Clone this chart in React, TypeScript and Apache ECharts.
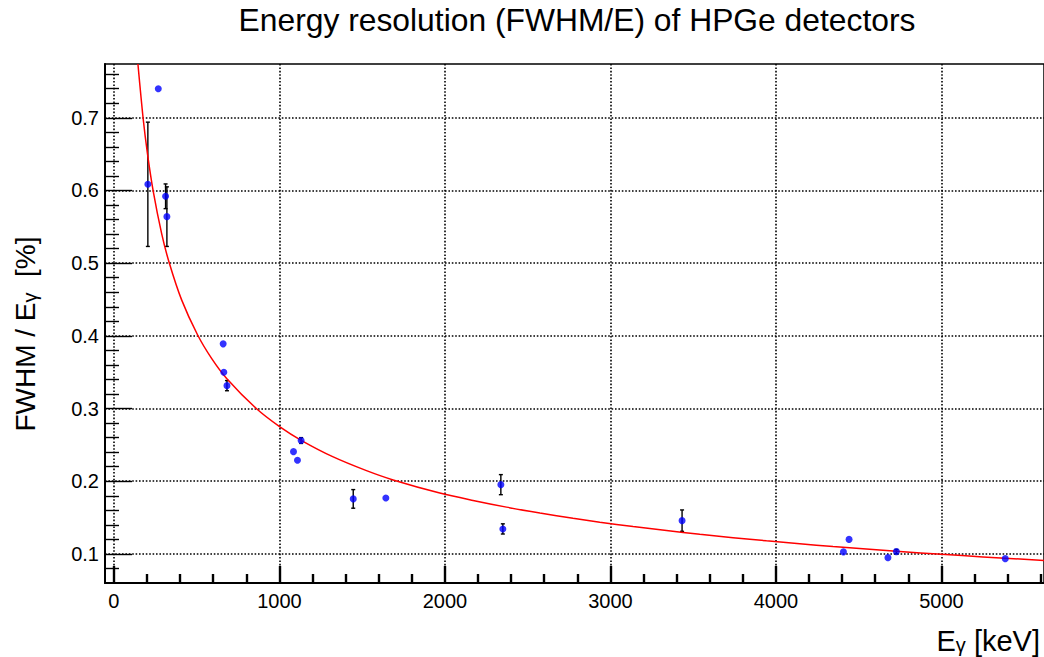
import React, { useEffect, useRef } from "react";
import * as echarts from "echarts";

const TITLE = "Energy resolution (FWHM/E) of HPGe detectors";

// measured points (energy in keV, FWHM/E in %) with error bars
const energies = [205, 268, 312, 320, 660, 664, 683, 1085, 1109, 1131, 1446, 1643, 2338, 2350, 3433, 4408, 4442, 4677, 4728, 5386];
const resolutions = [0.6085, 0.740, 0.592, 0.564, 0.389, 0.350, 0.3315, 0.2407, 0.2288, 0.256, 0.1757, 0.177, 0.1953, 0.1344, 0.1458, 0.1028, 0.120, 0.0949, 0.1032, 0.0935];
const errors = [0.0855, 0, 0.017, 0.041, 0, 0, 0.007, 0, 0, 0.004, 0.0128, 0, 0.0138, 0.007, 0.0147, 0, 0, 0, 0.003, 0];

// fitted curve
const fitEnergies = [145, 177, 203, 237, 288, 334, 409, 505, 590, 681, 862, 1003, 1134, 1325, 1526, 1687, 1969, 2170, 2372, 2574, 2774, 2936, 3137, 3339, 3540, 3741, 3943, 4144, 4345, 4506, 4748, 5000, 5251, 5620];
const fitValues = [0.774, 0.698, 0.650, 0.5995, 0.541, 0.5006, 0.4495, 0.4015, 0.369, 0.3414, 0.2997, 0.2748, 0.256, 0.2335, 0.2146, 0.2018, 0.1838, 0.1736, 0.1644, 0.1563, 0.1491, 0.1437, 0.1377, 0.1322, 0.1270, 0.1224, 0.1180, 0.1140, 0.1102, 0.1074, 0.1034, 0.0995, 0.0959, 0.0910];

// axes
const X_MIN = -54;
const X_MAX = 5620;
const Y_MIN = 0.06;
const Y_MAX = 0.774;
const xMajorTicks = [0, 1000, 2000, 3000, 4000, 5000];
const xMinorTicks = [200, 400, 600, 800, 1200, 1400, 1600, 1800, 2200, 2400, 2600, 2800, 3200, 3400, 3600, 3800, 4200, 4400, 4600, 4800, 5200, 5400, 5600];
const yMajorTicks = [0.1, 0.2, 0.3, 0.4, 0.5, 0.6, 0.7];
const yMinorTicks = [0.08, 0.12, 0.14, 0.16, 0.18, 0.22, 0.24, 0.26, 0.28, 0.32, 0.34, 0.36, 0.38, 0.42, 0.44, 0.46, 0.48, 0.52, 0.54, 0.56, 0.58, 0.62, 0.64, 0.66, 0.68, 0.72, 0.74, 0.76];

const FONT = "'Liberation Sans', Arial, Helvetica, sans-serif";

export default function App() {
  const ref = useRef<HTMLDivElement>(null);
  useEffect(() => {
    if (!ref.current) return;
    const chart = echarts.init(ref.current, null, { renderer: "svg" });
    const tickStyle = { color: "#000", width: 1.4 };
    const xTickStyle = { color: "#000", width: 2.4 };
    const gridLine = { show: true, lineStyle: { color: "#000", width: 1.6, type: [1.6, 1.8] as any } };
    const pointData = energies.map((e, i) => [e, resolutions[i]]);
    const errData = energies
      .map((e, i) => [e, resolutions[i], errors[i]])
      .filter((d) => d[2] > 0);
    const fitData = fitEnergies.map((e, i) => [e, fitValues[i]]);

    chart.setOption({
      animation: false,
      backgroundColor: "#fff",
      grid: { left: 105, right: 0, top: 64, bottom: 74, show: true, borderColor: "#000", borderWidth: 1.5, containLabel: false },
      xAxis: [
        {
          type: "value", min: X_MIN, max: X_MAX, position: "bottom",
          axisLine: { show: true, onZero: false, lineStyle: { color: "#000", width: 2 } },
          axisTick: { show: true, inside: true, length: 17, customValues: xMajorTicks, lineStyle: xTickStyle },
          axisLabel: { customValues: xMajorTicks, color: "#000", fontSize: 20, fontFamily: FONT, margin: 8, formatter: (v: number) => String(Math.round(v)) },
          splitLine: gridLine,
        },
        {
          type: "value", min: X_MIN, max: X_MAX, position: "bottom",
          axisLine: { show: false, onZero: false },
          axisTick: { show: true, inside: true, length: 9, customValues: xMinorTicks, lineStyle: xTickStyle },
          axisLabel: { show: false },
          splitLine: { show: false },
        },
      ],
      yAxis: [
        {
          type: "value", min: Y_MIN, max: Y_MAX, position: "left",
          axisLine: { show: true, onZero: false, lineStyle: { color: "#000", width: 2 } },
          axisTick: { show: true, inside: true, length: 27, customValues: yMajorTicks, lineStyle: tickStyle },
          axisLabel: { customValues: yMajorTicks, color: "#000", fontSize: 20, fontFamily: FONT, margin: 6, formatter: (v: number) => v.toFixed(1) },
          splitLine: gridLine,
        },
        {
          type: "value", min: Y_MIN, max: Y_MAX, position: "left",
          axisLine: { show: false, onZero: false },
          axisTick: { show: true, inside: true, length: 14, customValues: yMinorTicks, lineStyle: tickStyle },
          axisLabel: { show: false },
          splitLine: { show: false },
        },
      ],
      graphic: [
        {
          type: "text", x: 577, y: 20,
          style: { text: TITLE, fontSize: 31.8, fontFamily: FONT, fill: "#000", align: "center", verticalAlign: "middle" },
        },
        {
          type: "text", x: 1040, y: 638,
          style: {
            text: "{m|E}{s|γ}{m| [keV]}", align: "right", verticalAlign: "middle", fill: "#000",
            rich: {
              m: { fontSize: 29, fontFamily: FONT, lineHeight: 34, verticalAlign: "bottom", fill: "#000" },
              s: { fontSize: 20, fontFamily: FONT, lineHeight: 20, padding: [8, 0, 0, 0], verticalAlign: "bottom", fill: "#000" },
            },
          },
        },
        {
          type: "text", x: 23, y: 334, rotation: Math.PI / 2,
          style: {
            text: "{m|FWHM / E}{s|γ}{m|  [%]}", align: "center", verticalAlign: "middle", fill: "#000",
            rich: {
              m: { fontSize: 28, fontFamily: FONT, lineHeight: 33, verticalAlign: "bottom", fill: "#000" },
              s: { fontSize: 20, fontFamily: FONT, lineHeight: 20, padding: [8, 0, 0, 0], verticalAlign: "bottom", fill: "#000" },
            },
          },
        },
      ],
      series: [
        {
          type: "custom", xAxisIndex: 0, yAxisIndex: 0, data: errData, z: 2, clip: true,
          renderItem: (params: any, api: any) => {
            const x = api.value(0), y = api.value(1), e = api.value(2);
            const top = api.coord([x, y + e]);
            const bot = api.coord([x, y - e]);
            const c = 2;
            const st = { stroke: "#000", lineWidth: 1.4 };
            return {
              type: "group",
              children: [
                { type: "line", shape: { x1: top[0], y1: top[1], x2: bot[0], y2: bot[1] }, style: st },
                { type: "line", shape: { x1: top[0] - c, y1: top[1], x2: top[0] + c, y2: top[1] }, style: st },
                { type: "line", shape: { x1: bot[0] - c, y1: bot[1], x2: bot[0] + c, y2: bot[1] }, style: st },
              ],
            };
          },
        },
        {
          type: "line", xAxisIndex: 0, yAxisIndex: 0, data: fitData, showSymbol: false, symbol: "none",
          smooth: 0.3, clip: true, z: 3,
          lineStyle: { color: "#ff0000", width: 1.5 },
        },
        {
          type: "scatter", xAxisIndex: 0, yAxisIndex: 0, data: pointData, symbol: "circle", symbolSize: 7, z: 4,
          itemStyle: { color: "#0000ff" },
        },
      ],
    });
    return () => chart.dispose();
  }, []);
  return <div ref={ref} style={{ position: "fixed", left: 0, top: 0, width: 1044, height: 657, background: "#fff" }} />;
}
